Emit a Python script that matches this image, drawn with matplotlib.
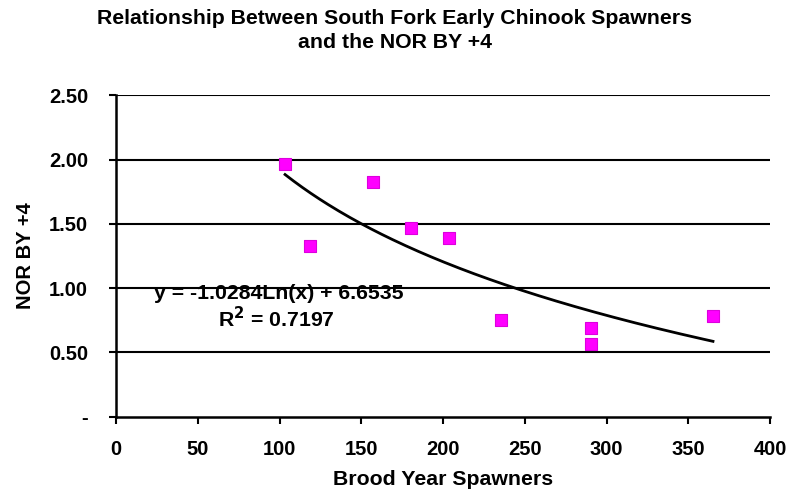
import numpy as np
import matplotlib
matplotlib.use("Agg")
import matplotlib.pyplot as plt

plt.rcParams['font.family'] = ['Liberation Sans', 'DejaVu Sans']

spawners = [103.4, 118.7, 157.2, 180.4, 203.7, 235.5, 290.5, 290.5, 365.1]
nor_by4 = [1.963, 1.326, 1.823, 1.466, 1.388, 0.750, 0.688, 0.564, 0.781]
slope = -1.0284
intercept = 6.6535
r2 = 0.7197
xticks = [0, 50, 100, 150, 200, 250, 300, 350, 400]
yticks = [0, 0.5, 1.0, 1.5, 2.0, 2.5]
ytick_labels = ['-', '0.50', '1.00', '1.50', '2.00', '2.50']

FS = 14.5
FL = 15.3

fig = plt.figure(figsize=(7.89, 4.96), dpi=100)
ax = fig.add_axes([0.147, 0.160, 0.829, 0.648])

ax.set_xlim(0, 400)
ax.set_ylim(0, 2.5)
for y in yticks[1:]:
    ax.axhline(y, color='black', lw=1.5, zorder=1)

xs = np.linspace(min(spawners), max(spawners), 200)
ax.plot(xs, slope * np.log(xs) + intercept, color='black', lw=2.0, zorder=2)

ax.scatter(spawners, nor_by4, marker='s', s=85, facecolor='#FF00FF',
           edgecolor='#DD00DD', linewidths=0.8, zorder=3)

ax.set_xticks(xticks)
ax.set_xticklabels([str(v) for v in xticks], fontsize=FS, fontweight='bold')
ax.set_yticks(yticks)
ax.set_yticklabels(ytick_labels, fontsize=FS, fontweight='bold')
ax.tick_params(axis='both', direction='out', length=5, width=1.5, color='black')
ax.tick_params(axis='x', pad=12)
ax.tick_params(axis='y', pad=15)

for s in ['top', 'right']:
    ax.spines[s].set_visible(False)
for s in ['left', 'bottom']:
    ax.spines[s].set_linewidth(1.8)

ax.set_xlabel('Brood Year Spawners', fontsize=FL, fontweight='bold', labelpad=8)
ax.set_ylabel('NOR BY +4', fontsize=FS, fontweight='bold', labelpad=10)

fig.text(0.5006, 1 - 18.5 / 496, 'Relationship Between South Fork Early Chinook Spawners',
         fontsize=FL, fontweight='bold', ha='center', va='center')
fig.text(0.5006, 1 - 42 / 496, 'and the NOR BY +4',
         fontsize=FL, fontweight='bold', ha='center', va='center')

ax.text(23.5, 0.956, f'y = {slope:.4f}Ln(x) + {intercept:.4f}', fontsize=FL,
        fontweight='bold', ha='left', va='center', zorder=4)
ax.text(133.5, 0.762, f'R$^\\mathbf{{2}}$ = {r2:.4f}', fontsize=FL,
        fontweight='bold', ha='right', va='center', zorder=4)

fig.savefig('out.png', dpi=100)
